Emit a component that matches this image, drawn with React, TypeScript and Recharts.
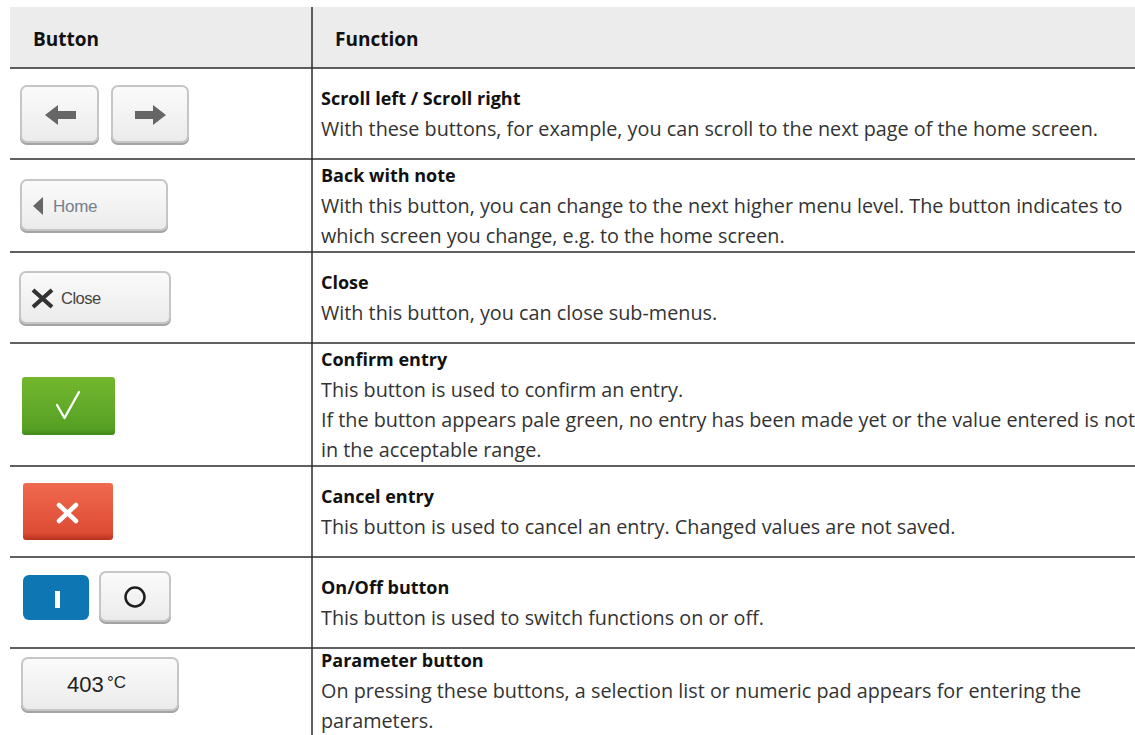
import { Surface, Layer, Rectangle, Text, Polygon, Dot } from "recharts";

const HEADERS = ["Button", "Function"];

const TITLES = [
  "Scroll left / Scroll right",
  "Back with note",
  "Close",
  "Confirm entry",
  "Cancel entry",
  "On/Off button",
  "Parameter button",
];

const DESCRIPTIONS = [
  ["With these buttons, for example, you can scroll to the next page of the home screen."],
  [
    "With this button, you can change to the next higher menu level. The button indicates to",
    "which screen you change, e.g. to the home screen.",
  ],
  ["With this button, you can close sub-menus."],
  [
    "This button is used to confirm an entry.",
    "If the button appears pale green, no entry has been made yet or the value entered is not",
    "in the acceptable range.",
  ],
  ["This button is used to cancel an entry. Changed values are not saved."],
  ["This button is used to switch functions on or off."],
  [
    "On pressing these buttons, a selection list or numeric pad appears for entering the",
    "parameters.",
  ],
];

const BUTTON_LABELS = ["Home", "Close", "403", "°C"];

// layout
const W = 1135;
const H = 735;
const LEFT = 10;
const DIVIDER = 312;
const TOP = 7;
const ROW_EDGES = [68, 159, 252, 343, 466, 557, 648, 733];
const LINE_GAP = 30;
const FONT = "'Open Sans', 'Noto Sans', sans-serif";
const BTN_FONT = "Arial, 'Liberation Sans', sans-serif";
const LINE = "#2b2b2b";

function GrayButton({ x, y, w, h }: { x: number; y: number; w: number; h: number }) {
  return (
    <Layer>
      <Rectangle x={x - 1} y={y + 1} width={w + 2} height={h + 1} radius={7} fill="#a3a3a3" />
      <Rectangle x={x} y={y} width={w} height={h - 1} radius={6} fill="url(#grayGrad)" stroke="#c6c6c6" strokeWidth={2} />
    </Layer>
  );
}

function ButtonCells() {
  return (
    <Layer>
      {/* scroll arrows */}
      <GrayButton x={21} y={86} w={77} h={57} />
      <GrayButton x={112} y={86} w={76} h={57} />
      <Polygon
        points={[
          { x: 45, y: 115 },
          { x: 58, y: 105 },
          { x: 58, y: 111 },
          { x: 76, y: 111 },
          { x: 76, y: 119 },
          { x: 58, y: 119 },
          { x: 58, y: 125 },
        ]}
        fill="#666"
      />
      <Polygon
        points={[
          { x: 166, y: 115 },
          { x: 153, y: 105 },
          { x: 153, y: 111 },
          { x: 135, y: 111 },
          { x: 135, y: 119 },
          { x: 153, y: 119 },
          { x: 153, y: 125 },
        ]}
        fill="#666"
      />

      {/* back with note */}
      <GrayButton x={21} y={180} w={146} h={51} />
      <Polygon
        points={[
          { x: 33, y: 206 },
          { x: 43, y: 197 },
          { x: 43, y: 215 },
        ]}
        fill="#666"
      />
      <Text x={53} y={206} verticalAnchor="middle" fontFamily={BTN_FONT} fontSize={17} letterSpacing={-0.3} fill="#74808c">
        {BUTTON_LABELS[0]}
      </Text>

      {/* close */}
      <GrayButton x={20} y={272} w={150} h={52} />
      <path d="M33 290 L52 307 M52 290 L33 307" stroke="#333" strokeWidth={4.2} />
      <Text x={61} y={298} verticalAnchor="middle" fontFamily={BTN_FONT} fontSize={16.5} letterSpacing={-0.5} fill="#444">
        {BUTTON_LABELS[1]}
      </Text>

      {/* confirm */}
      <Rectangle x={22} y={377} width={93} height={58} radius={3} fill="url(#greenGrad)" />
      <path d="M57 405 L64.5 418 L79 392" stroke="#fff" strokeWidth={2.3} fill="none" strokeLinejoin="round" strokeLinecap="round" />

      {/* cancel */}
      <Rectangle x={23} y={483} width={90} height={57} radius={3} fill="url(#redGrad)" />
      <path d="M59 505 L76 521 M76 505 L59 521" stroke="#fff" strokeWidth={4.5} strokeLinecap="round" />

      {/* on / off */}
      <Rectangle x={23} y={575} width={66} height={45} radius={6} fill="#0f76b4" />
      <Rectangle x={55} y={591} width={5} height={17} fill="#fff" />
      <GrayButton x={100} y={572} w={70} h={50} />
      <Dot cx={135} cy={597} r={9.5} fill="none" stroke="#1e1e1e" strokeWidth={2.5} />

      {/* parameter */}
      <GrayButton x={22} y={658} w={156} h={53} />
      <Text x={67} y={692} fontFamily={BTN_FONT} fontSize={22} fill="#222">
        {BUTTON_LABELS[2]}
      </Text>
      <Text x={107} y={688} fontFamily={BTN_FONT} fontSize={17} fill="#222">
        {BUTTON_LABELS[3]}
      </Text>
    </Layer>
  );
}

function FunctionCells() {
  return (
    <Layer>
      {TITLES.map((title, i) => {
        const mid = (ROW_EDGES[i] + ROW_EDGES[i + 1]) / 2;
        const lines = [title, ...DESCRIPTIONS[i]];
        const first = mid - ((lines.length - 1) * LINE_GAP) / 2;
        return (
          <Layer key={title}>
            {lines.map((line, j) => (
              <Text
                key={j}
                x={DIVIDER + 9}
                y={first + j * LINE_GAP}
                verticalAnchor="middle"
                fontFamily={FONT}
                fontSize={j === 0 ? 18 : 19.8}
                fontWeight={j === 0 ? 700 : 400}
                fill={j === 0 ? "#111" : "#333"}
              >
                {line}
              </Text>
            ))}
          </Layer>
        );
      })}
    </Layer>
  );
}

export default function App() {
  return (
    <div style={{ position: "absolute", left: 0, top: 0, width: W, height: H, background: "#fff" }}>
      <Surface width={W} height={H} viewBox={{ x: 0, y: 0, width: W, height: H }}>
        <defs>
          <linearGradient id="grayGrad" x1="0" y1="0" x2="0" y2="1">
            <stop offset="0%" stopColor="#fbfbfb" />
            <stop offset="100%" stopColor="#ebebeb" />
          </linearGradient>
          <linearGradient id="greenGrad" x1="0" y1="0" x2="0" y2="1">
            <stop offset="0%" stopColor="#74b72e" />
            <stop offset="90%" stopColor="#55a024" />
            <stop offset="100%" stopColor="#3f8a1a" />
          </linearGradient>
          <linearGradient id="redGrad" x1="0" y1="0" x2="0" y2="1">
            <stop offset="0%" stopColor="#f06a50" />
            <stop offset="88%" stopColor="#dd4b33" />
            <stop offset="100%" stopColor="#b8311f" />
          </linearGradient>
        </defs>

        {/* header band */}
        <Rectangle x={LEFT} y={TOP} width={W - LEFT} height={ROW_EDGES[0] - TOP} fill="#ececec" />
        <Text x={33} y={39} verticalAnchor="middle" fontFamily={FONT} fontSize={19} fontWeight={700} fill="#111">
          {HEADERS[0]}
        </Text>
        <Text x={335} y={39} verticalAnchor="middle" fontFamily={FONT} fontSize={19} fontWeight={700} fill="#111">
          {HEADERS[1]}
        </Text>

        {/* grid rules */}
        {ROW_EDGES.slice(0, -1).map((y) => (
          <line key={y} x1={LEFT} x2={W} y1={y} y2={y} stroke={LINE} strokeWidth={1.5} />
        ))}
        <line x1={DIVIDER} x2={DIVIDER} y1={TOP} y2={H} stroke={LINE} strokeWidth={1.5} />

        <ButtonCells />
        <FunctionCells />
      </Surface>
    </div>
  );
}
